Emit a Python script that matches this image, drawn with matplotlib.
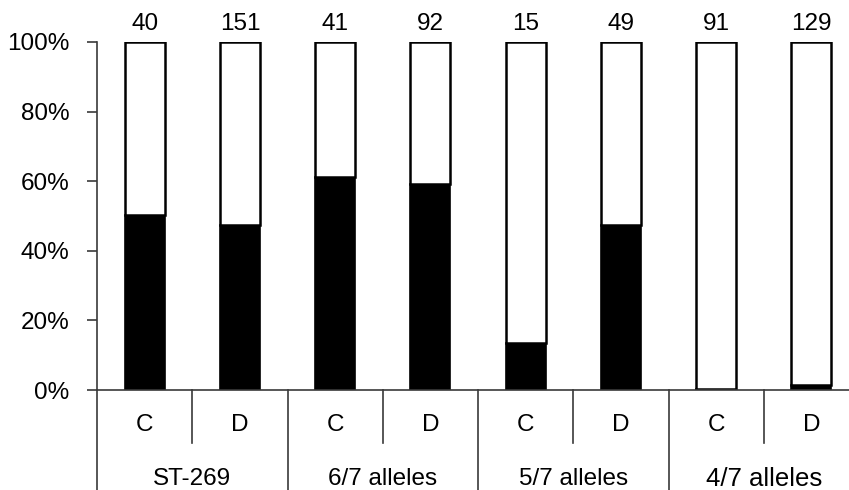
import matplotlib.pyplot as plt
import numpy as np
from matplotlib.ticker import PercentFormatter

plt.rcParams['font.family'] = ['Liberation Sans', 'DejaVu Sans']

groups = ['ST-269', '6/7 alleles', '5/7 alleles', '4/7 alleles']
subs = ['C', 'D', 'C', 'D', 'C', 'D', 'C', 'D']
counts = [40, 151, 41, 92, 15, 49, 91, 129]
black_pct = [50.3, 47.5, 61.3, 59.2, 13.6, 47.3, 0.4, 1.5]

white_pct = [100 - b for b in black_pct]
x = np.arange(len(subs))

fig = plt.figure(figsize=(8.49, 4.90), dpi=100)
ax = fig.add_axes([97 / 849, 100 / 490, 762 / 849, 348 / 490])

grey = '#3a3a3a'
ax.bar(x, black_pct, width=0.42, color='black', edgecolor='black', linewidth=1.2)
ax.bar(x, white_pct, bottom=black_pct, width=0.42, color='white',
       edgecolor='black', linewidth=1.8)

for xi, n in zip(x, counts):
    ax.text(xi, 102, str(n), ha='center', va='bottom', fontsize=17.5)

ax.set_xlim(-0.5, 7.5)
ax.set_ylim(0, 100)
ax.set_yticks(np.arange(0, 101, 20))
ax.yaxis.set_major_formatter(PercentFormatter(decimals=0))
ax.tick_params(axis='y', labelsize=17.5, length=7, width=1.2, color=grey, pad=13)
ax.set_xticks([])

for s in ['top', 'right']:
    ax.spines[s].set_visible(False)
for s in ['left', 'bottom']:
    ax.spines[s].set_color(grey)
    ax.spines[s].set_linewidth(1.2)

trans = ax.get_xaxis_transform()
# sub-category separators
for xs in [0.5, 2.5, 4.5, 6.5]:
    ax.plot([xs, xs], [0, -0.152], transform=trans, color=grey, lw=1.2, clip_on=False)
# group separators
for xs in [-0.5, 1.5, 3.5, 5.5, 7.5]:
    ax.plot([xs, xs], [0, -0.30], transform=trans, color=grey, lw=1.2, clip_on=False)

for xi, s in zip(x, subs):
    ax.text(xi, -0.10, s, transform=trans, ha='center', va='center', fontsize=17.5)
for gi, g in enumerate(groups):
    ax.text(2 * gi + 0.5, -0.255, g, transform=trans, ha='center', va='center',
            fontsize=17.5 if gi < 3 else 18.5)

fig.savefig('out.png', dpi=100)
